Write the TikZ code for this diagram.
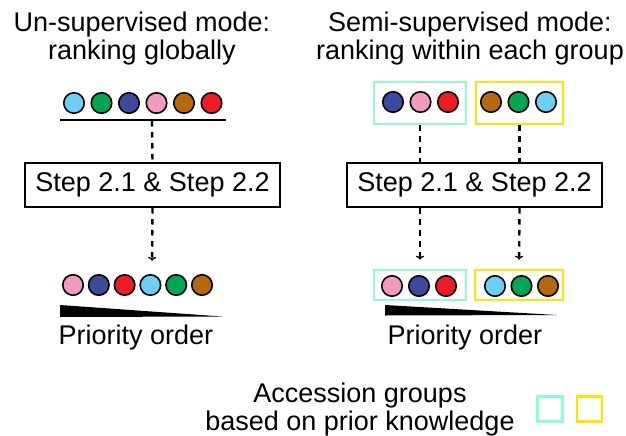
\documentclass[tikz,border=0pt]{standalone}
\usepackage{fontspec}
\setmainfont{Liberation Sans}
\usetikzlibrary{arrows.meta, positioning}
\definecolor{dblue}{HTML}{6DCFF6}
\definecolor{dgreen}{HTML}{00A651}
\definecolor{dnavy}{HTML}{3B4A9E}
\definecolor{dpink}{HTML}{F49AC1}
\definecolor{dbrown}{HTML}{B5690F}
\definecolor{dred}{HTML}{ED1C24}
\definecolor{grpteal}{HTML}{8EFCD6}
\definecolor{grpyellow}{HTML}{FFE400}
\tikzset{
  dot/.style={circle, draw=black, line width=1.6pt, minimum size=20.5pt, inner sep=0pt},
  stepbox/.style={rectangle, draw=black, line width=2pt, minimum width=255pt, minimum height=44pt, inner sep=0pt},
  grpbox/.style={rectangle, line width=2.6pt, inner sep=0pt},
  dashln/.style={line width=2.4pt, dash pattern=on 5.5pt off 5.5pt},
  dasharr/.style={dashln, -{To[length=4pt, width=8pt, line width=1.4pt]}, shorten >=9pt},
}

\begin{document}
\begin{tikzpicture}[x=1pt, y=-1pt, font=\fontsize{27}{28}\selectfont]
\useasboundingbox (0,0) rectangle (626,436);

% titles
\node[align=center] (ltitle) at (142,39) {Un-supervised mode:\\ranking globally};
\node[align=center] (rtitle) at (470,39) {Semi-supervised mode:\\ranking within each group};

% un-supervised: before ranking
\foreach \c [count=\i] in {dblue, dgreen, dnavy, dpink, dbrown, dred}
  \node[dot, fill=\c] (lt\i) at ({74+27.5*(\i-1)},103) {};
\coordinate (lbarl) at (60,120);
\coordinate (lbarr) at (226,120);
\draw[line width=2.2pt] (lbarl) -- (lbarr);
\coordinate (lbar) at (152,121);

\node[stepbox] (lstep) at (152.5,185) {Step 2.1 \& Step 2.2};
\node[minimum width=150pt, minimum height=30pt, inner sep=0pt] (lrow) at (152,285) {};
\draw[dashln] (lbar) -- (lstep.north);
\draw[dasharr] (lstep.south) -- (lrow.north);

% un-supervised: after ranking
\foreach \c [count=\i] in {dpink, dnavy, dred, dblue, dgreen, dbrown}
  \node[dot, fill=\c] (lb\i) at ({73+25.8*(\i-1)},285) {};
\fill (60,305) -- (222,316.5) -- (60,317) -- cycle;
\node (lprio) at (136,338) {Priority order};

% semi-supervised: before ranking
\node[grpbox, draw=grpteal, minimum width=92pt, minimum height=42pt] (rtA) at (420,103) {};
\node[grpbox, draw=grpyellow, minimum width=87pt, minimum height=42pt] (ryA) at (519.5,103) {};
\foreach \c [count=\i] in {dnavy, dpink, dred}
  \node[dot, fill=\c] (rta\i) at ({393+27.5*(\i-1)},102) {};
\foreach \c [count=\i] in {dbrown, dgreen, dblue}
  \node[dot, fill=\c] (rya\i) at ({491+27.5*(\i-1)},102) {};

\node[stepbox] (rstep) at (474.5,185) {Step 2.1 \& Step 2.2};
\draw[dashln] (rtA.south) -- (rtA.south |- rstep.north);
\draw[dashln] (ryA.south) -- (ryA.south |- rstep.north);

% semi-supervised: after ranking
\node[grpbox, draw=grpteal, minimum width=92pt, minimum height=30pt] (rtB) at (420,285) {};
\node[grpbox, draw=grpyellow, minimum width=88pt, minimum height=30pt] (ryB) at (519,285) {};
\draw[dasharr] (rstep.south -| rtA) -- (rtB.north);
\draw[dasharr] (rstep.south -| ryA) -- (ryB.north);
\foreach \c [count=\i] in {dpink, dnavy, dred}
  \node[dot, fill=\c] (rtb\i) at ({392+27*(\i-1)},286) {};
\foreach \c [count=\i] in {dblue, dgreen, dbrown}
  \node[dot, fill=\c] (ryb\i) at ({495+26.5*(\i-1)},286) {};
\fill (385,305) -- (557,315) -- (385,315.5) -- cycle;
\node (rprio) at (465,338) {Priority order};

% legend
\node[align=center] (legend) at (360,410) {Accession groups\\based on prior knowledge};
\node[grpbox, draw=grpteal, minimum size=25pt] (legt) at (550,409) {};
\node[grpbox, draw=grpyellow, minimum size=25pt] (legy) at (589.5,409) {};
\end{tikzpicture}
\end{document}
